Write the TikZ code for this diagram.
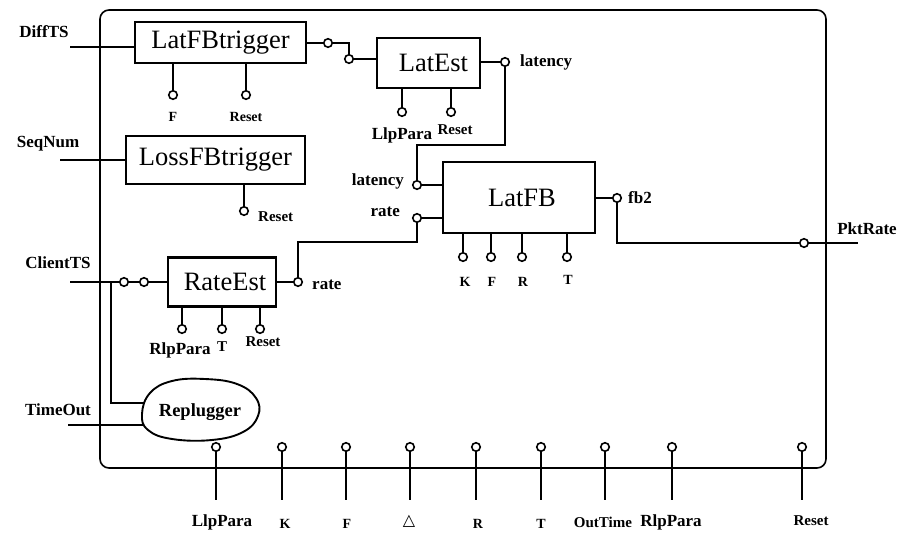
\documentclass[tikz,border=0pt]{standalone}
\usepackage{fontspec}
\setmainfont{Liberation Serif}
\newfontfamily\symfont{DejaVu Sans}
\begin{document}
\begin{tikzpicture}[x=1pt,y=-1pt,
  blk/.style={draw, line width=2.2pt, inner sep=0pt, font=\fontsize{26.5}{29}\selectfont},
  pin/.style={circle, draw, line width=1.6pt, inner sep=0pt, minimum size=8.5pt, fill=white},
  wire/.style={line width=1.8pt},
  lbl/.style={inner sep=0pt, font=\bfseries\fontsize{17}{19}\selectfont},
  mlbl/.style={inner sep=0pt, font=\bfseries\fontsize{15}{17}\selectfont},
  slbl/.style={inner sep=0pt, font=\bfseries\fontsize{14}{16}\selectfont}]
\useasboundingbox (0,0) rectangle (915,535);

% outer frame
\node[draw, line width=1.6pt, rounded corners=9pt, minimum width=726pt, minimum height=458pt, inner sep=0pt] (sys) at (463,239) {};

% blocks
\node[blk, minimum width=171pt, minimum height=41pt] (lft) at (220.5,42.5) {LatFBtrigger};
\node[blk, minimum width=103pt, minimum height=50pt] (le) at (428.5,63) {\hspace*{10pt}LatEst};
\node[blk, minimum width=179pt, minimum height=48pt] (loss) at (215.5,160) {LossFBtrigger};
\node[blk, minimum width=152pt, minimum height=71pt] (lfb) at (519,197.5) {\hspace*{6pt}LatFB};
\node[blk, minimum width=108pt, minimum height=49pt] (re) at (222,282) {\hspace*{6pt}RateEst};

% replugger blob
\node[inner sep=0pt, font=\bfseries\fontsize{18.5}{20}\selectfont] (rep) at (200,412) {Replugger};
\draw[line width=1.9pt] plot[smooth cycle, tension=0.7] coordinates {(142,414) (150,393) (172,381) (205,379) (237,384) (256,398) (258,416) (243,432) (212,440) (172,439) (148,430)};
\coordinate (repA) at (144,403);
\coordinate (repB) at (144,425);

% pins
\node[pin] (lftF) at (173,95) {};
\node[pin] (lftR) at (246,95) {};
\node[pin] (lftO) at (328,43) {};
\node[pin] (leI) at (349,59) {};
\node[pin] (leL) at (402,112) {};
\node[pin] (leR) at (451,112) {};
\node[pin] (leO) at (505,62) {};
\node[pin] (lossR) at (244,211) {};
\node[pin] (lfbL) at (417,185) {};
\node[pin] (lfbRt) at (417,218) {};
\node[pin] (lfbK) at (463,257) {};
\node[pin] (lfbF) at (491,257) {};
\node[pin] (lfbR) at (522,257) {};
\node[pin] (lfbT) at (567,257) {};
\node[pin] (lfbO) at (617,198) {};
\node[pin] (pkt) at (804,243) {};
\node[pin] (reO) at (298,282) {};
\node[pin] (ci1) at (124,282) {};
\node[pin] (ci2) at (144,282) {};
\node[pin] (reP1) at (182,329) {};
\node[pin] (reP2) at (222,329) {};
\node[pin] (reP3) at (260,329) {};
\foreach \n/\x in {b1/216,b2/282,b3/346,b4/410,b5/476,b6/541,b7/605,b8/672,b9/802}
  \node[pin] (\n) at (\x,447) {};

% outside ends
\coordinate (dIn) at (70,47);
\coordinate (sIn) at (60,160);
\coordinate (cIn) at (70,282);
\coordinate (cJ) at (111,282);
\coordinate (tIn) at (68,425);
\coordinate (pOut) at (858,243);
\coordinate (lat1) at (505,145);

% wires
\draw[wire] (dIn) -- (dIn -| lft.west);
\draw[wire] (sIn) -- (sIn -| loss.west);
\draw[wire] (cIn) -- (ci1.west);
\draw[wire] (ci1.east) -- (ci2.west);
\draw[wire] (ci2.east) -- (re.west |- ci2);
\draw[wire] (cJ) |- (repA);
\draw[wire] (tIn) -- (repB);
\draw[wire] (lft.east |- lftO) -- (lftO.west);
\draw[wire] (lftO.east) -| (leI.north);
\draw[wire] (leI.east) -- (le.west |- leI);
\draw[wire] (le.east |- leO) -- (leO.west);
\draw[wire] (leO.south) -- (lat1) -| (lfbL.north);
\draw[wire] (lfbL.east) -- (lfb.west |- lfbL);
\draw[wire] (lfbRt.east) -- (lfb.west |- lfbRt);
\draw[wire] (lfbRt.south) -- ++(0,19) -| (reO.north);
\draw[wire] (re.east |- reO) -- (reO.west);
\draw[wire] (lfb.east |- lfbO) -- (lfbO.west);
\draw[wire] (lfbO.south) |- (pkt.west);
\draw[wire] (pkt.east) -- (pOut);
\foreach \p/\b in {lftF/lft,lftR/lft,leL/le,leR/le,lossR/loss,lfbK/lfb,lfbF/lfb,lfbR/lfb,lfbT/lfb,reP1/re,reP2/re,reP3/re}
  \draw[wire] (\b.south -| \p) -- (\p.north);
\foreach \n in {b1,b2,b3,b4,b5,b6,b7,b8,b9}
  \draw[wire] (\n.south) -- ++(0,48);

% labels
\node[lbl] at (44,32) {DiffTS};
\node[lbl] at (48,144) {SeqNum};
\node[lbl] at (58,263) {ClientTS};
\node[lbl] at (58,410) {TimeOut};
\node[lbl] at (867,229) {PktRate};
\node[lbl, anchor=west] at (520,62) {latency};
\node[lbl, anchor=east] at (404,181) {latency};
\node[lbl, anchor=east] at (400,212) {rate};
\node[lbl, anchor=west] at (312,285) {rate};
\node[lbl, anchor=west] at (628,198) {fb2};

\node[slbl] at (173,117) {F};
\node[slbl] at (246,117) {Reset};
\node[lbl] at (402,135) {LlpPara};
\node[mlbl] at (455,130) {Reset};
\node[mlbl, anchor=west] at (258,217) {Reset};
\node[lbl] at (180,350) {RlpPara};
\node[mlbl] at (222,347) {T};
\node[mlbl] at (263,342) {Reset};
\node[slbl] at (465,282) {K};
\node[slbl] at (492,282) {F};
\node[slbl] at (523,282) {R};
\node[slbl] at (568,280) {T};

\node[lbl] at (222,522) {LlpPara};
\node[slbl] at (285,524) {K};
\node[slbl] at (347,524) {F};
\node[inner sep=0pt, font=\symfont\bfseries\fontsize{16}{18}\selectfont] at (409,521) {△};
\node[slbl] at (478,524) {R};
\node[slbl] at (541,524) {T};
\node[mlbl] at (603,522) {OutTime};
\node[lbl] at (671,522) {RlpPara};
\node[mlbl] at (811,521) {Reset};
\end{tikzpicture}
\end{document}
